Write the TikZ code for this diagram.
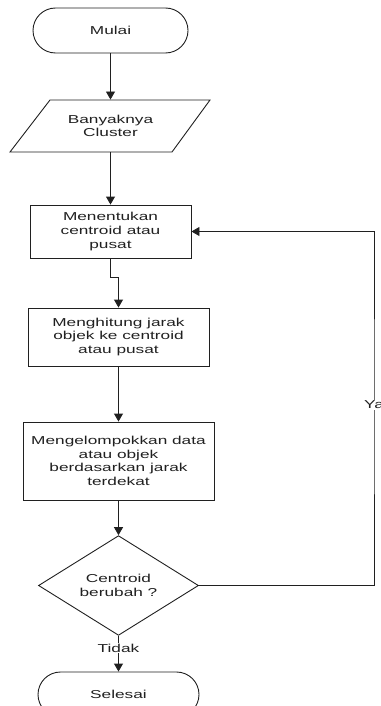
\documentclass[tikz,border=0pt]{standalone}
\usepackage{fontspec}
\setmainfont{Liberation Sans}[FakeStretch=1.5]
\usetikzlibrary{shapes.geometric,shapes.misc,arrows.meta}
\definecolor{ink}{HTML}{202020}
\tikzset{
  base/.style={draw=ink, line width=0.9pt, text=ink, font=\fontsize{11.5}{13.6}\selectfont, align=center, inner sep=0pt},
  term/.style={base, rounded rectangle},
  procbox/.style={base, rectangle},
  decide/.style={base, diamond},
  conn/.style={draw=ink, line width=0.9pt, -{Triangle[width=9pt,length=8pt]}},
  plain/.style={draw=ink, line width=0.9pt},
  lbl/.style={fill=white, text=ink, font=\fontsize{11.5}{13.6}\selectfont, inner sep=1pt}
}
\begin{document}
\begin{tikzpicture}[x=1pt,y=-1pt]
\useasboundingbox (0,0) rectangle (380,706);
\node[term, minimum width=155pt, minimum height=45pt] (mulai) at (110.5,30.5) {Mulai};
% parallelogram
\draw[plain] (50,100) -- (210,100) -- (172,152) -- (10,152) -- cycle;
\node[base, draw=none, minimum height=52pt, minimum width=120pt] (input) at (110.5,126) {Banyaknya\\Cluster};
\node[procbox, minimum width=161pt, minimum height=53pt] (r1) at (110.5,231.5) {Menentukan\\centroid atau\\pusat};
\node[procbox, minimum width=181pt, minimum height=58pt] (r2) at (118.5,337) {Menghitung jarak\\objek ke centroid\\atau pusat};
\node[procbox, minimum width=191pt, minimum height=78pt] (r3) at (118.5,461) {Mengelompokkan data\\atau objek\\berdasarkan jarak\\terdekat};
\node[decide, minimum width=160pt, minimum height=75pt] (dec) at (118.5,585.5) {Centroid\\berubah ?};
\node[term, minimum width=161pt, minimum height=45pt] (selesai) at (118.5,694.5) {Selesai};
\coordinate (loop) at (374,405);
\coordinate (jog) at (110.5,277);
\draw[conn] (mulai.south) -- (input.north);
\draw[conn] (input.south) -- (r1.north);
\draw[conn] (r1.south) -- (jog) -| (r2.north);
\draw[conn] (r2.south) -- (r3.north);
\draw[conn] (r3.south) -- (dec.north);
\draw[conn] (dec.east) -| (loop) |- (r1.east);
\node[lbl] (ya) at (loop) {Ya};
\draw[conn] (dec.south) -- (selesai.north);
\node[lbl] (tidak) at (118.5,648) {Tidak};
\end{tikzpicture}
\end{document}
